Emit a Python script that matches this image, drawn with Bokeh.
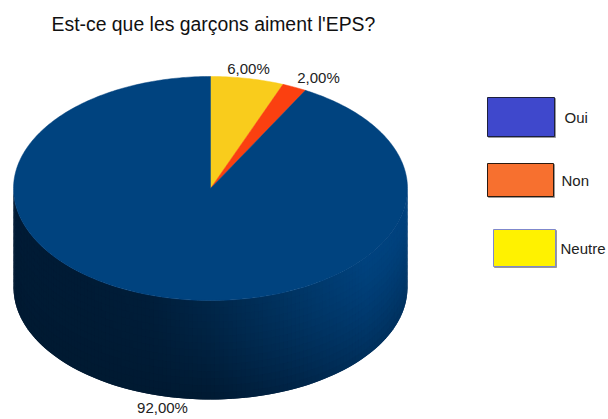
import math
from bokeh.plotting import figure
from bokeh.models import Range1d
from bokeh.core.properties import value
from bokeh.embed import file_html
from bokeh.resources import INLINE

title = "Est-ce que les garçons aiment l'EPS?"
# drawn clockwise from twelve o'clock
categories = ["Neutre", "Non", "Oui"]
shares = [6.0, 2.0, 92.0]
slice_colors = ["#f9cc1c", "#fb4010", "#00437f"]
legend_names = ["Oui", "Non", "Neutre"]
legend_fills = ["#3f48cc", "#f7702f", "#fff200"]
legend_lines = ["#1c1f3c", "#2a1a10", "#7f88cc"]

CX, CY, RX, RY, DEPTH = 210, 188, 197, 112, 99
FONT = value("Liberation Sans")

p = figure(width=608, height=419, x_range=Range1d(0, 608), y_range=Range1d(419, 0),
           output_backend="svg", toolbar_location=None, min_border=0)
p.axis.visible = False
p.grid.visible = False
p.outline_line_color = None
p.background_fill_color = "white"


def lerp(stops, t):
    for (a, ca), (b, cb) in zip(stops, stops[1:]):
        if t <= b:
            f = (t - a) / (b - a)
            return [ca[i] + (cb[i] - ca[i]) * f for i in range(3)]
    return list(stops[-1][1])


# shaded side wall: overlapping cells, painted left to right and top to bottom
top_stops = [(0.0, (0, 28, 54)), (0.2, (0, 28, 54)), (0.35, (0, 30, 58)), (0.5, (0, 38, 72)),
             (0.7, (0, 52, 98)), (0.9, (0, 67, 127)), (1.0, (0, 67, 127))]
low_stops = [(0.0, (0, 26, 50)), (0.5, (0, 26, 50)), (0.7, (0, 35, 68)), (0.9, (0, 48, 92)),
             (1.0, (0, 50, 95))]
xs, ys, cols = [], [], []
COLS, ROWS = 140, 14
for i in range(COLS):
    t0, t1 = math.pi * i / COLS, math.pi * min(i + 2, COLS) / COLS
    for r in range(ROWS):
        d0, d1 = DEPTH * r / ROWS, DEPTH * (r + 1) / ROWS + (1.5 if r < ROWS - 1 else 0)
        xa, xb = CX - RX * math.cos(t0), CX - RX * math.cos(t1)
        ya, yb = CY + RY * math.sin(t0), CY + RY * math.sin(t1)
        xs.append([xa, xb, xb, xa])
        ys.append([ya + d0, yb + d0, yb + d1, ya + d1])
        u = (xa + xb - 2 * (CX - RX)) / (4 * RX)
        a, b = lerp(top_stops, u), lerp(low_stops, u)
        f = ((r + 0.5) / ROWS) ** 1.4
        c = [int(a[k] + (b[k] - a[k]) * f) for k in range(3)]
        cols.append("#%02x%02x%02x" % tuple(c))
p.patches(xs, ys, fill_color=cols, line_color=None)

# top slices
start = 0.0
total = sum(shares)
for share, col in zip(shares, slice_colors):
    sweep = share / total * 2 * math.pi
    n = max(4, int(share * 4))
    angs = [start + sweep * k / n for k in range(n + 1)]
    px = [CX] + [CX + RX * math.sin(a) for a in angs]
    py = [CY] + [CY - RY * math.cos(a) for a in angs]
    p.patch(px, py, fill_color=col, line_color=col, line_width=0.5)
    start += sweep

# labels
pct = [f"{v:.2f}".replace(".", ",") + "%" for v in shares]
p.text([248, 318, 162], [68, 77, 407], text=pct, text_font=FONT, text_font_size="15px",
       text_color="#222222", text_align="center", text_baseline="middle")
p.text([51], [23], text=[title], text_font=FONT, text_font_size="19.4px", text_color="#111111",
       text_align="left", text_baseline="middle")

# legend
box_l, box_r = [487, 487, 493], [554, 553, 555]
box_t, box_b = [97, 163, 229], [136, 196, 266]
p.quad(left=[v + 1 for v in box_l], right=[v + 1 for v in box_r], top=[v + 1 for v in box_t],
       bottom=[v + 1 for v in box_b], fill_color="#999999", line_color="#999999")
p.quad(left=box_l, right=box_r, top=box_t, bottom=box_b, fill_color=legend_fills,
       line_color=legend_lines, line_width=1)
p.text([564, 561, 560], [117, 180, 248], text=legend_names, text_font=FONT, text_font_size="15px",
       text_color="#222222", text_align="left", text_baseline="middle")

open("out.html", "w").write(file_html(p, INLINE))
